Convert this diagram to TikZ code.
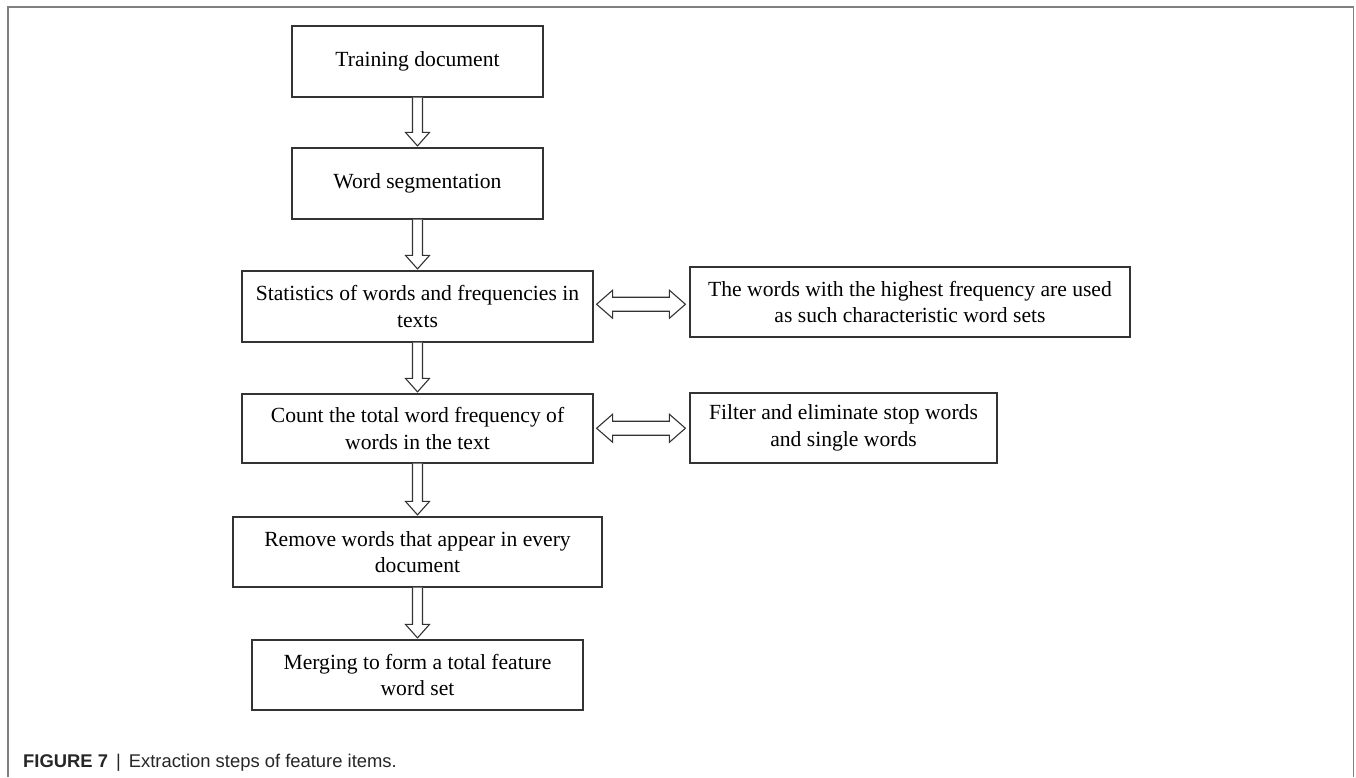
\documentclass[tikz,border=0pt]{standalone}
\usepackage{fontspec}
\setmainfont{Liberation Serif}
\newfontfamily\capfont{Liberation Sans}
\usetikzlibrary{calc}
\begin{document}
\begin{tikzpicture}[x=1pt,y=-1pt,
  box/.style={draw=black!80, line width=1.2pt, align=center, inner sep=0pt,
    font=\fontsize{21.6}{26.5}\selectfont},
  hollow/.style={draw=black!80, line width=1.1pt, fill=white, line join=miter}]
\useasboundingbox (0,0) rectangle (1356,777);
% frame
\draw[black!50, line width=1.5pt] (8,777) -- (8,7) -- (1353.5,7) -- (1353.5,777);
% nodes
\node[box, minimum width=251pt, minimum height=71pt] (b1) at (417.5,61.5) {Training document};
\node[box, minimum width=251pt, minimum height=71pt] (b2) at (417.5,183.5) {Word segmentation};
\node[box, minimum width=351pt, minimum height=71pt] (b3) at (417.5,306.5) {Statistics of words and frequencies in\\texts};
\node[box, minimum width=351pt, minimum height=69pt] (b4) at (417.5,428.5) {Count the total word frequency of\\words in the text};
\node[box, minimum width=369pt, minimum height=70pt] (b5) at (417.5,552) {Remove words that appear in every\\document};
\node[box, minimum width=331pt, minimum height=70pt] (b6) at (417.5,675) {Merging to form a total feature\\word set};
\node[box, minimum width=440pt, minimum height=70pt] (r1) at (910,302) {The words with the highest frequency are used\\as such characteristic word sets};
\node[box, minimum width=307pt, minimum height=70pt] (r2) at (843.5,428) {Filter and eliminate stop words\\and single words};
% down arrows
\foreach \a/\b in {b1/b2, b2/b3, b3/b4, b4/b5, b5/b6}{
  \draw[hollow] ($(\a.south)+(-5,0)$) -- ($(\b.north)+(-5,-15)$) -- ($(\b.north)+(-12,-15)$)
    -- ($(\b.north)+(0,-1.5)$) -- ($(\b.north)+(12,-15)$) -- ($(\b.north)+(5,-15)$) -- ($(\a.south)+(5,0)$);
}
% double arrows
\foreach \a/\b/\n in {b3/r1/m1, b4/r2/m2}{
  \coordinate (\n) at ($(\a.east)!0.5!(\b.west)$);
  \coordinate (\n L) at ($(\a.east |- \n)+(3,0)$);
  \coordinate (\n R) at ($(\b.west |- \n)+(-4,0)$);
  \draw[hollow] (\n L) -- ($(\n L)+(16,-14)$) -- ($(\n L)+(16,-7)$) -- ($(\n R)+(-16,-7)$)
    -- ($(\n R)+(-16,-14)$) -- (\n R) -- ($(\n R)+(-16,14)$) -- ($(\n R)+(-16,7)$)
    -- ($(\n L)+(16,7)$) -- ($(\n L)+(16,14)$) -- cycle;
}
% caption
\node[anchor=base west, inner sep=0pt, font=\capfont\fontsize{18.4}{22}\selectfont, text=black!85] (cap) at (23,767)
  {\textbf{FIGURE 7}\hspace{8pt}|\hspace{8pt}Extraction steps of feature items.};
\end{tikzpicture}
\end{document}
